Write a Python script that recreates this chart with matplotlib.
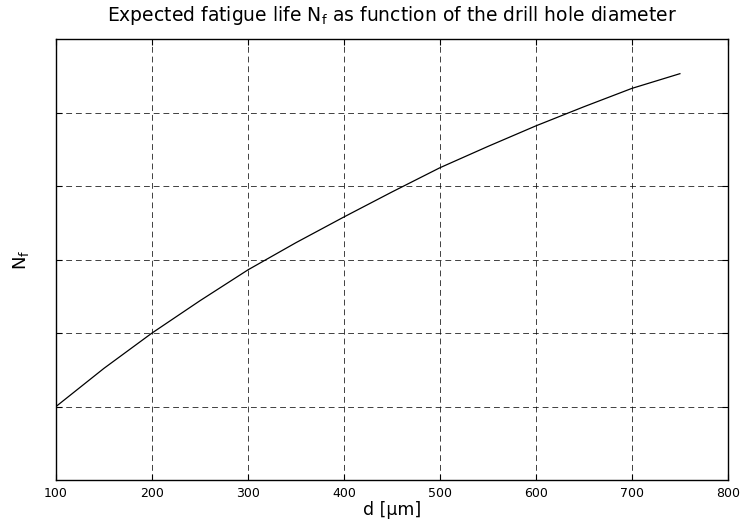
import matplotlib
matplotlib.use("Agg")
import matplotlib.pyplot as plt

d_um = [100, 150, 200, 250, 300, 350, 400, 450, 500, 550, 600, 650, 700, 750]
n_f = [1.00, 1.52, 2.00, 2.44, 2.86, 3.23, 3.58, 3.92, 4.25, 4.54, 4.82, 5.08, 5.33, 5.53]
x_ticks = [100, 200, 300, 400, 500, 600, 700, 800]
y_ticks = [1, 2, 3, 4, 5]

plt.rcParams['font.family'] = ['DejaVu Sans']

fig = plt.figure(figsize=(7.42, 5.22), dpi=100)
ax = fig.add_axes([0.0755, 0.0805, 0.9055, 0.8445])
ax.plot(d_um, n_f, color='black', linewidth=0.9)
ax.set_xlim(100, 800)
ax.set_ylim(0, 6)
ax.set_xticks(x_ticks)
ax.set_yticks(y_ticks)
ax.set_yticklabels([])
ax.tick_params(direction='in', top=True, right=True, labelsize=9, length=4, pad=5)
ax.grid(True, linestyle=(0, (6, 4)), color='black', linewidth=0.7, alpha=0.75)
for s in ax.spines.values():
    s.set_linewidth(1.0)
ax.set_title('Expected fatigue life N$_\\mathregular{f}$ as function of the drill hole diameter',
             fontsize=13.5, pad=13)
ax.set_xlabel('d [µm]', fontsize=12.5, labelpad=1)
ax.set_ylabel('N$_\\mathregular{f}$', fontsize=13, labelpad=13)
fig.savefig('out.png', dpi=100)
